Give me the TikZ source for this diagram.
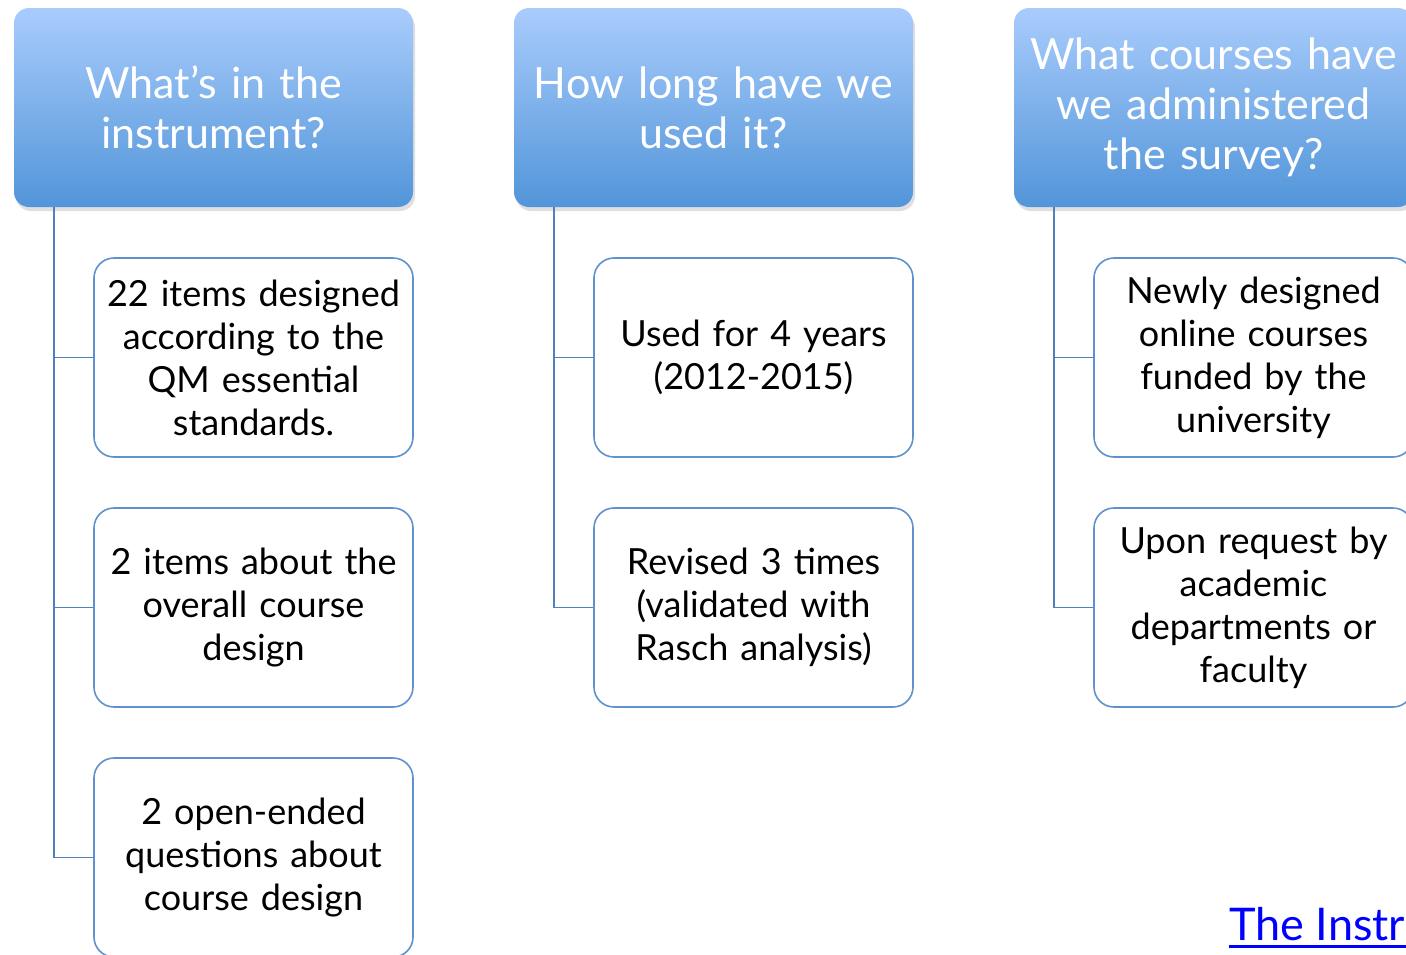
\documentclass[tikz,border=0pt]{standalone}
\usepackage{fontspec}
\setmainfont{Lato}
\usetikzlibrary{shadows}
\definecolor{headtop}{HTML}{A9CCFC}
\definecolor{headbot}{HTML}{5295D9}
\definecolor{linkblue}{HTML}{0000FF}
\definecolor{connblue}{HTML}{4F81BD}
\definecolor{boxline}{HTML}{5F91CE}
\tikzset{
  headbox/.style={rounded corners=15pt, top color=headtop, bottom color=headbot,
    draw=none, minimum width=399pt, minimum height=199pt, inner sep=0pt,
    text width=395pt, align=center, text=white,
    font=\fontsize{43}{50}\selectfont,
    drop shadow={shadow xshift=2pt, shadow yshift=-4pt, opacity=0.25}},
  itembox/.style={rounded corners=20pt, draw=boxline, line width=1.6pt, fill=white,
    minimum width=319pt, minimum height=199pt, inner sep=0pt,
    text width=310pt, align=center, text=black,
    font=\fontsize{36}{43}\selectfont},
  conn/.style={draw=connblue, line width=1.6pt}
}
\begin{document}
\begin{tikzpicture}[x=1pt, y=-1pt]
\useasboundingbox (0,0) rectangle (1406,954);

% column 1
\node[headbox] (h1) at (213.5,107.5) {What’s in the\\instrument?};
\node[itembox] (c11) at (253.5,357.5) {22 items designed\\according to the\\QM essential\\standards.};
\node[itembox] (c12) at (253.5,607.5) {2 items about the\\overall course\\design};
\node[itembox] (c13) at (253.5,857.5) {2 open-ended\\questions about\\course design};

% column 2
\node[headbox] (h2) at (713.5,107.5) {How long have we\\used it?};
\node[itembox] (c21) at (753.5,357.5) {Used for 4 years\\(2012-2015)};
\node[itembox] (c22) at (753.5,607.5) {Revised 3 times\\(validated with\\Rasch analysis)};

% column 3
\node[headbox] (h3) at (1213.5,107.5) {What courses have\\we administered\\the survey?};
\node[itembox] (c31) at (1253.5,357.5) {Newly designed\\online courses\\funded by the\\university};
\node[itembox] (c32) at (1253.5,607.5) {Upon request by\\academic\\departments or\\faculty};

% tree connectors
\foreach \c in {c11,c12,c13} \draw[conn] ([xshift=40pt]h1.south west) |- (\c.west);
\foreach \c in {c21,c22} \draw[conn] ([xshift=40pt]h2.south west) |- (\c.west);
\foreach \c in {c31,c32} \draw[conn] ([xshift=40pt]h3.south west) |- (\c.west);

% hyperlink text
\node[anchor=base west, inner sep=0pt, text=linkblue, font=\fontsize{45}{50}\selectfont] (link) at (1229,940) {The Instr};
\draw[linkblue, line width=3pt] ([yshift=-6pt]link.base west) -- (1406,946);
\end{tikzpicture}
\end{document}
